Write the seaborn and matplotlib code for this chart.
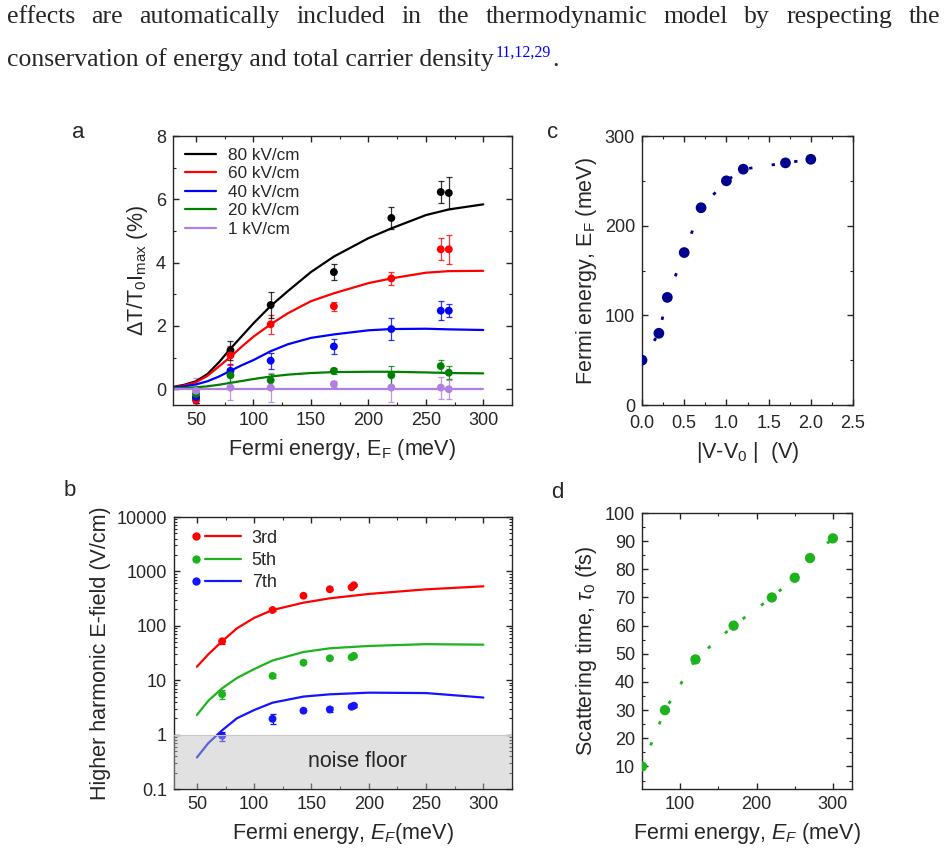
import numpy as np
import pandas as pd
import matplotlib
matplotlib.use("Agg")
import matplotlib.pyplot as plt
import seaborn as sns
from matplotlib.lines import Line2D
from matplotlib.legend_handler import HandlerTuple
from matplotlib.ticker import MultipleLocator, FixedLocator, LogLocator, NullFormatter

## Panel a: differential transmission vs Fermi energy
fields = ["80 kV/cm", "60 kV/cm", "40 kV/cm", "20 kV/cm", "1 kV/cm"]
colors_a = ["#000000", "#ff0000", "#0000ff", "#008000", "#b07fe0"]
ef_pts_a = [50, 80, 115, 170, 220, 263, 270]
dT_80 = [-0.30, 1.23, 2.66, 3.70, 5.41, 6.23, 6.20]
dT_60 = [-0.35, 1.07, 2.05, 2.62, 3.50, 4.42, 4.42]
dT_40 = [-0.25, 0.58, 0.90, 1.35, 1.90, 2.48, 2.48]
dT_20 = [-0.15, 0.44, 0.28, 0.58, 0.44, 0.73, 0.52]
dT_1 = [-0.05, 0.05, 0.05, 0.16, 0.05, 0.05, 0.00]
err_80 = [0.15, 0.30, 0.40, 0.25, 0.35, 0.35, 0.50]
err_60 = [0.15, 0.30, 0.30, 0.15, 0.20, 0.35, 0.45]
err_40 = [0.20, 0.20, 0.25, 0.25, 0.35, 0.30, 0.20]
err_20 = [0.20, 0.20, 0.20, 0.10, 0.30, 0.20, 0.20]
err_1 = [0.40, 0.40, 0.45, 0.10, 0.45, 0.35, 0.30]

ef_fit_a = [30, 40, 50, 60, 70, 80, 90, 100, 115, 130, 150, 170, 200, 220, 250, 270, 300]
fit_80 = [0.07, 0.14, 0.25, 0.48, 0.85, 1.28, 1.68, 2.08, 2.63, 3.10, 3.70, 4.19, 4.77, 5.08, 5.50, 5.68, 5.84]
fit_60 = [0.06, 0.12, 0.22, 0.42, 0.72, 1.02, 1.35, 1.66, 2.05, 2.40, 2.78, 3.03, 3.35, 3.50, 3.68, 3.73, 3.74]
fit_40 = [0.05, 0.09, 0.15, 0.25, 0.40, 0.58, 0.76, 0.92, 1.20, 1.42, 1.62, 1.73, 1.86, 1.90, 1.91, 1.89, 1.87]
fit_20 = [0.03, 0.04, 0.06, 0.09, 0.14, 0.20, 0.26, 0.32, 0.40, 0.46, 0.51, 0.54, 0.55, 0.55, 0.53, 0.51, 0.50]
fit_1 = [0.0] * len(ef_fit_a)

## Panel b: harmonic fields
harmonics = ["3rd", "5th", "7th"]
colors_b = ["#ff0000", "#1db31d", "#1414ff"]
ef_pts_b = [72, 116, 143, 166, 185, 187]
h3 = [52, 195, 357, 469, 510, 556]
h5 = [5.5, 12, 21, 25.3, 26.5, 28]
h7 = [0.95, 1.95, 2.75, 2.9, 3.25, 3.4]
h3_err = [6, 10, 15, 15, 25, 25]
h5_err = [1.0, 0.8, 1.5, 1.2, 1.5, 1.5]
h7_err = [0.18, 0.4, 0.12, 0.3, 0.2, 0.2]
ef_fit_b = [50, 60, 72, 85, 100, 116, 143, 166, 200, 250, 300]
h3_fit = [17.7, 30, 52, 90, 140, 195, 266, 320, 385, 468, 532]
h5_fit = [2.3, 4.2, 7.1, 11, 16, 23, 33, 38.6, 42.6, 46, 45]
h7_fit = [0.38, 0.7, 1.2, 2.0, 2.83, 3.86, 5.0, 5.5, 5.9, 5.8, 4.8]

## Panel c: Fermi energy vs gate voltage
dv = [0.0, 0.2, 0.3, 0.5, 0.7, 1.0, 1.2, 1.7, 2.0]
ef_c = [50, 80, 120, 170, 220, 250, 263, 270, 274]

## Panel d: scattering time
ef_d = [50, 80, 120, 170, 220, 250, 270, 300]
tau_d = [10, 30, 48, 60, 70, 77, 84, 91]

sns.set_style("ticks", {"xtick.direction": "in", "ytick.direction": "in",
                        "xtick.top": True, "ytick.right": True})
plt.rcParams["font.family"] = ["Liberation Sans", "DejaVu Sans"]
plt.rcParams["mathtext.fontset"] = "custom"
plt.rcParams["mathtext.rm"] = "Liberation Sans"
plt.rcParams["mathtext.it"] = "Liberation Sans:italic"
plt.rcParams["mathtext.default"] = "regular"
plt.rcParams["axes.linewidth"] = 1.0
TICK = 13
LAB = 15.5

fig = plt.figure(figsize=(9.47, 8.56), dpi=100)
W, H = 947, 856
def box(l, t, r, b):
    return [l / W, 1 - b / H, (r - l) / W, (b - t) / H]

ax_a = fig.add_axes(box(173, 136, 512, 405))
ax_b = fig.add_axes(box(174, 517, 512, 789))
ax_c = fig.add_axes(box(642, 136, 853, 405))
ax_d = fig.add_axes(box(642, 513, 852, 789))

def style(ax):
    ax.tick_params(which="both", direction="in", top=True, right=True, labelsize=TICK)
    ax.tick_params(which="major", length=4, width=1, pad=5)
    ax.tick_params(which="minor", length=2.5, width=0.8)

## ---- panel a
pal_a = dict(zip(fields, colors_a))
fit_a = pd.DataFrame({"ef": ef_fit_a * 5,
                      "val": fit_80 + fit_60 + fit_40 + fit_20 + fit_1,
                      "field": np.repeat(fields, len(ef_fit_a))})
pts_a = pd.DataFrame({"ef": ef_pts_a * 5,
                      "val": dT_80 + dT_60 + dT_40 + dT_20 + dT_1,
                      "err": err_80 + err_60 + err_40 + err_20 + err_1,
                      "field": np.repeat(fields, len(ef_pts_a))})
for f in fields[::-1]:
    sub = pts_a[pts_a.field == f]
    ax_a.errorbar(sub.ef, sub.val, yerr=sub.err, fmt="none", ecolor=pal_a[f], elinewidth=0.9,
                  capsize=2, capthick=0.9, alpha=0.8)
sns.scatterplot(data=pts_a, x="ef", y="val", hue="field", palette=pal_a,
                hue_order=fields[::-1], s=32, edgecolor="none", legend=False, ax=ax_a, zorder=3)
sns.lineplot(data=fit_a, x="ef", y="val", hue="field", palette=pal_a, hue_order=fields,
             lw=1.6, ax=ax_a, zorder=2)
h, l = ax_a.get_legend_handles_labels()
ax_a.legend(h, l, loc="upper left", frameon=False, fontsize=12.3, handlelength=1.8,
            handletextpad=0.7, labelspacing=0.2, borderaxespad=0.3)
ax_a.set_xlim(30, 325)
ax_a.set_ylim(-0.5, 8)
ax_a.xaxis.set_major_locator(MultipleLocator(50))
ax_a.xaxis.set_minor_locator(MultipleLocator(25))
ax_a.yaxis.set_major_locator(MultipleLocator(2))
ax_a.yaxis.set_minor_locator(MultipleLocator(1))
ax_a.set_xlabel("Fermi energy, E$_F$ (meV)", fontsize=LAB, labelpad=6)
ax_a.set_ylabel("$\\Delta$T/T$_0$I$_{max}$ (%)", fontsize=LAB)
style(ax_a)

## ---- panel b
pal_b = dict(zip(harmonics, colors_b))
fit_b = pd.DataFrame({"ef": ef_fit_b * 3, "val": h3_fit + h5_fit + h7_fit,
                      "harm": np.repeat(harmonics, len(ef_fit_b))})
pts_b = pd.DataFrame({"ef": ef_pts_b * 3, "val": h3 + h5 + h7, "err": h3_err + h5_err + h7_err,
                      "harm": np.repeat(harmonics, len(ef_pts_b))})
sns.lineplot(data=fit_b, x="ef", y="val", hue="harm", palette=pal_b, lw=1.6,
             legend=False, ax=ax_b, zorder=2)
for hm in harmonics:
    sub = pts_b[pts_b.harm == hm]
    ax_b.errorbar(sub.ef, sub.val, yerr=sub.err, fmt="none", ecolor=pal_b[hm], elinewidth=0.9,
                  capsize=2, capthick=0.9)
sns.scatterplot(data=pts_b, x="ef", y="val", hue="harm", palette=pal_b, s=32,
                edgecolor="none", legend=False, ax=ax_b, zorder=3)
ax_b.set_yscale("log")
ax_b.axhspan(0.1, 1, color="#bdbdbd", alpha=0.45, lw=0, zorder=4)
ax_b.axhline(1, color="#c8c8c8", lw=0.8, zorder=4)
ax_b.text(190, 0.32, "noise floor", ha="center", va="center", fontsize=LAB, zorder=5)
ax_b.set_xlim(30, 325)
ax_b.set_ylim(0.1, 10000)
ax_b.xaxis.set_major_locator(MultipleLocator(50))
ax_b.xaxis.set_minor_locator(MultipleLocator(25))
ax_b.yaxis.set_major_locator(FixedLocator([0.1, 1, 10, 100, 1000, 10000]))
ax_b.set_yticklabels(["0.1", "1", "10", "100", "1000", "10000"])
ax_b.yaxis.set_minor_locator(LogLocator(base=10, subs=np.arange(2, 10)))
ax_b.yaxis.set_minor_formatter(NullFormatter())
hb = [(Line2D([], [], ls="none", marker="o", ms=6, color=c, mec="none"),
       Line2D([], [], color=c, lw=1.6), Line2D([], [], color=c, lw=1.6)) for c in colors_b]
ax_b.legend(hb, harmonics, handler_map={tuple: HandlerTuple(ndivide=3, pad=0)},
            loc="upper left", frameon=False, fontsize=13, handlelength=3.0,
            handletextpad=0.6, labelspacing=0.3, borderaxespad=0.3)
ax_b.set_xlabel("Fermi energy, $\\mathit{E_F}$(meV)", fontsize=LAB, labelpad=6)
ax_b.set_ylabel("Higher harmonic E-field (V/cm)", fontsize=LAB)
style(ax_b)

## ---- panel c
sns.lineplot(x=dv, y=ef_c, color="#00008f", lw=2, ls=(0, (1.2, 7)), ax=ax_c)
sns.scatterplot(x=dv, y=ef_c, color="#00008f", s=60, edgecolor="none", ax=ax_c, zorder=3)
ax_c.set_xlim(0, 2.5)
ax_c.set_ylim(0, 300)
ax_c.xaxis.set_major_locator(MultipleLocator(0.5))
ax_c.xaxis.set_minor_locator(MultipleLocator(0.25))
ax_c.yaxis.set_major_locator(MultipleLocator(100))
ax_c.yaxis.set_minor_locator(MultipleLocator(50))
ax_c.xaxis.set_major_formatter(matplotlib.ticker.FormatStrFormatter("%.1f"))
ax_c.set_xlabel("|V-V$_0$ |  (V)", fontsize=LAB, labelpad=6)
ax_c.set_ylabel("Fermi energy, E$_F$ (meV)", fontsize=LAB)
style(ax_c)
ax_c.tick_params(axis="x", which="major", pad=7)

## ---- panel d
sns.lineplot(x=ef_d, y=tau_d, color="#1db31d", lw=2, ls=(0, (1.2, 7)), ax=ax_d)
sns.scatterplot(x=ef_d, y=tau_d, color="#1db31d", s=55, edgecolor="none", ax=ax_d, zorder=3)
ax_d.set_xlim(50, 325)
ax_d.set_ylim(2, 100)
ax_d.xaxis.set_major_locator(MultipleLocator(100))
ax_d.xaxis.set_minor_locator(MultipleLocator(50))
ax_d.yaxis.set_major_locator(MultipleLocator(10))
ax_d.yaxis.set_minor_locator(MultipleLocator(5))
ax_d.yaxis.set_major_formatter(matplotlib.ticker.FuncFormatter(lambda v, p: f"{v:.0f}" if v >= 10 else ""))
ax_d.set_xlabel("Fermi energy, $\\mathit{E_F}$ (meV)", fontsize=LAB, labelpad=6)
ax_d.set_ylabel("Scattering time, $\\mathit{\\tau}_0$ (fs)", fontsize=LAB)
style(ax_d)

## panel letters
for s, x, y in [("a", 78, 132), ("b", 70, 490), ("c", 553, 132), ("d", 557, 492)]:
    fig.text(x / W, 1 - y / H, s, fontsize=16, ha="center", va="center")

## header text (justified first line)
serif = "Liberation Serif"
hsize = 18.5
words = "effects are automatically included in the thermodynamic model by respecting the".split()
fig.canvas.draw()
r = fig.canvas.get_renderer()
txts = [fig.text(0, 1 - 23 / H, w, fontsize=hsize, family=serif, va="baseline") for w in words]
widths = [t.get_window_extent(r).width for t in txts]
gap = (940 - 7 - sum(widths)) / (len(words) - 1)
x = 7
for t, w in zip(txts, widths):
    t.set_x(x / W)
    x += w + gap
t2 = fig.text(7 / W, 1 - 66 / H, "conservation of energy and total carrier density",
              fontsize=hsize, family=serif, va="baseline")
w2 = t2.get_window_extent(r).x1
t3 = fig.text((w2 + 2) / W, 1 - 57 / H, "11,12,29", fontsize=11.5, family=serif,
              va="baseline", color="#0000ff")
w3 = t3.get_window_extent(r).x1
fig.text((w3 + 1) / W, 1 - 66 / H, ".", fontsize=hsize, family=serif, va="baseline")

fig.savefig("out.png", dpi=100)
